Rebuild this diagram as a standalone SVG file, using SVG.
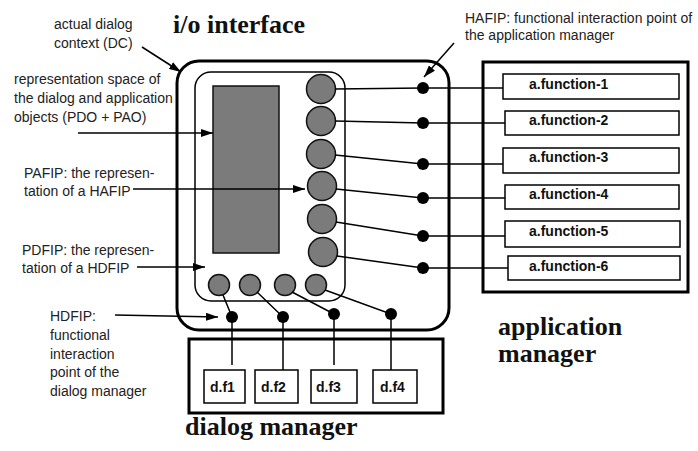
<svg xmlns="http://www.w3.org/2000/svg" width="698" height="451" viewBox="0 0 698 451">
<defs>
<style>
.lbl{font-family:"Liberation Sans",Arial,sans-serif;font-size:14px;fill:#222}
.fn{font-family:"Liberation Sans",Arial,sans-serif;font-size:14px;font-weight:bold;fill:#111}
.title{font-family:"Liberation Serif","Times New Roman",serif;font-size:26px;font-weight:bold;fill:#111}
.thick{fill:none;stroke:#000;stroke-width:3}
.box{fill:#fff;stroke:#000;stroke-width:1.5}
.gray{fill:#7b7b7b;stroke:#111;stroke-width:1.5}
.ln{fill:none;stroke:#000;stroke-width:1.5}
.arr{fill:none;stroke:#000;stroke-width:1.5;marker-end:url(#ah)}
.dot{fill:#000}
</style>
<marker id="ah" viewBox="0 0 12 8" refX="12" refY="4" markerWidth="12" markerHeight="8" markerUnits="userSpaceOnUse" orient="auto">
<path d="M0,0 L12,4 L0,8 Z" fill="#000"/>
</marker>
</defs>
<rect width="698" height="451" fill="#fff"/>

<g id="io-interface">
<rect class="thick" x="177" y="61" width="272" height="269" rx="22"/>
<text class="title" x="173" y="33">i/o interface</text>
<rect class="ln" x="195" y="72" width="150" height="229" rx="16"/>
<rect class="gray" x="213" y="86" width="66" height="167"/>
<circle class="gray" cx="321" cy="89" r="14.5"/>
<circle class="gray" cx="321" cy="121" r="14.5"/>
<circle class="gray" cx="321" cy="154" r="14.5"/>
<circle class="gray" cx="322" cy="186" r="14.5"/>
<circle class="gray" cx="322" cy="219" r="14.5"/>
<circle class="gray" cx="323" cy="252" r="14.5"/>
<circle class="gray" cx="219" cy="285" r="10.5"/>
<circle class="gray" cx="250" cy="285" r="10.5"/>
<circle class="gray" cx="285" cy="285" r="10.5"/>
<circle class="gray" cx="316" cy="285" r="10.5"/>
</g>

<g id="application-manager">
<rect class="thick" x="483" y="62" width="205" height="230"/>
<rect class="box" x="503" y="74" width="176" height="25"/>
<text class="fn" x="529" y="89">a.function-1</text>
<rect class="box" x="505" y="111" width="174" height="24"/>
<text class="fn" x="529" y="125">a.function-2</text>
<rect class="box" x="503" y="148" width="176" height="25"/>
<text class="fn" x="529" y="162">a.function-3</text>
<rect class="box" x="505" y="185" width="174" height="24"/>
<text class="fn" x="529" y="199">a.function-4</text>
<rect class="box" x="505" y="221" width="175" height="26"/>
<text class="fn" x="529" y="236">a.function-5</text>
<rect class="box" x="508" y="256" width="172" height="24"/>
<text class="fn" x="529" y="271">a.function-6</text>
<text class="title" x="498" y="335">application</text>
<text class="title" x="498" y="362">manager</text>
</g>

<g id="dialog-manager">
<rect class="thick" x="189" y="339" width="254" height="74"/>
<rect class="box" x="204" y="370" width="41" height="33"/>
<text class="fn" x="210" y="392">d.f1</text>
<rect class="box" x="255" y="370" width="43" height="33"/>
<text class="fn" x="261" y="392">d.f2</text>
<rect class="box" x="311" y="370" width="46" height="33"/>
<text class="fn" x="316" y="392">d.f3</text>
<rect class="box" x="373" y="370" width="44" height="33"/>
<text class="fn" x="380" y="392">d.f4</text>
<text class="title" x="185" y="435">dialog manager</text>
</g>

<g id="labels">
<text class="lbl" x="54" y="29">actual dialog</text>
<text class="lbl" x="54" y="48">context  (DC)</text>
<text class="lbl" x="14" y="84">representation space of</text>
<text class="lbl" x="14" y="103">the dialog and application</text>
<text class="lbl" x="14" y="122">objects (PDO + PAO)</text>
<text class="lbl" x="24" y="178">PAFIP: the represen-</text>
<text class="lbl" x="24" y="196">tation of a HAFIP</text>
<text class="lbl" x="22" y="255">PDFIP: the represen-</text>
<text class="lbl" x="22" y="273">tation of a HDFIP</text>
<text class="lbl" x="50" y="321">HDFIP:</text>
<text class="lbl" x="50" y="340">functional</text>
<text class="lbl" x="50" y="359">interaction</text>
<text class="lbl" x="50" y="377">point of the</text>
<text class="lbl" x="50" y="396">dialog manager</text>
<text class="lbl" x="465" y="23">HAFIP: functional interaction point of</text>
<text class="lbl" x="465" y="40">the application manager</text>
</g>

<g id="connectors">
<line class="arr" x1="142" y1="47" x2="181" y2="72"/>
<line class="arr" x1="78" y1="133" x2="213" y2="133"/>
<line class="arr" x1="133" y1="189" x2="305" y2="189"/>
<line class="arr" x1="137" y1="267" x2="205" y2="267"/>
<line class="arr" x1="115" y1="315" x2="218" y2="317"/>
<line class="arr" x1="454" y1="43" x2="424" y2="77"/>

<polyline class="ln" points="335,89 423,88 503,88"/>
<polyline class="ln" points="335,121 423,123 505,123"/>
<polyline class="ln" points="335,155 423,164 503,164"/>
<polyline class="ln" points="336,189 423,198 505,198"/>
<polyline class="ln" points="336,222 423,236 505,236"/>
<polyline class="ln" points="337,256 423,268 508,268"/>
<circle class="dot" cx="423" cy="88" r="6"/>
<circle class="dot" cx="423" cy="123" r="6"/>
<circle class="dot" cx="423" cy="164" r="6"/>
<circle class="dot" cx="423" cy="198" r="6"/>
<circle class="dot" cx="423" cy="236" r="6"/>
<circle class="dot" cx="423" cy="268" r="6"/>

<polyline class="ln" points="223,295 232,317 232,365"/>
<polyline class="ln" points="257,292 283,317 283,370"/>
<polyline class="ln" points="292,292 334,314 334,365"/>
<polyline class="ln" points="325,290 391,314 391,370"/>
<circle class="dot" cx="232" cy="317" r="6"/>
<circle class="dot" cx="283" cy="317" r="6"/>
<circle class="dot" cx="334" cy="314" r="6"/>
<circle class="dot" cx="391" cy="314" r="6"/>
</g>
</svg>
